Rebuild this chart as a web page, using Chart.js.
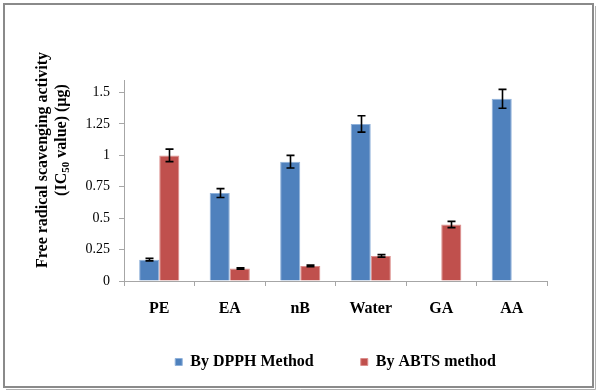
<!DOCTYPE html>
<html>
<head>
<meta charset="utf-8">
<script src="https://cdn.jsdelivr.net/npm/chart.js@4.4.0/dist/chart.umd.min.js"></script>
<style>
  html, body { margin: 0; padding: 0; background: #fff; }
  #wrap { width: 600px; height: 392px; position: relative; }
</style>
</head>
<body>
<div id="wrap"><canvas id="scavenging_plot" width="600" height="392"></canvas></div>
<script>
'use strict';

// data
const extracts = ['PE', 'EA', 'nB', 'Water', 'GA', 'AA'];
const dpphValues = [0.17, 0.70, 0.95, 1.25, null, 1.45];
const dpphErrors = [0.01, 0.035, 0.05, 0.065, null, 0.075];
const abtsValues = [1.00, 0.10, 0.12, 0.20, 0.45, null];
const abtsErrors = [0.05, 0.006, 0.006, 0.01, 0.025, null];
const yTickLabels = ['0', '0.25', '0.5', '0.75', '1', '1.25', '1.5'];

const serif = '"Liberation Serif", "Times New Roman", serif';

/**
 * Gray frame round the whole picture
 */
const framePlugin = {
    id: 'frame',
    beforeDraw(chart) {
        const ctx = chart.ctx;
        ctx.save();
        ctx.fillStyle = '#fff';
        ctx.fillRect(0, 0, chart.width, chart.height);
        ctx.strokeStyle = '#8a8a8a';
        ctx.lineWidth = 2;
        ctx.strokeRect(4, 4, 589, 383);
        ctx.strokeStyle = '#b0b0b0';
        ctx.lineWidth = 1;
        ctx.beginPath();
        ctx.moveTo(595.5, 6); ctx.lineTo(595.5, 389.5); ctx.lineTo(6, 389.5);
        ctx.stroke();
        ctx.restore();
    }
};

/**
 * Error bars drawn from the error arrays
 */
const errorBarPlugin = {
    id: 'errorBars',
    afterDatasetsDraw(chart) {
        const ctx = chart.ctx;
        const yScale = chart.scales.y;
        ctx.save();
        ctx.strokeStyle = '#000';
        ctx.lineWidth = 1.6;
        chart.data.datasets.forEach((ds, di) => {
            const meta = chart.getDatasetMeta(di);
            meta.data.forEach((bar, i) => {
                const v = ds.data[i];
                const e = ds.errors[i];
                if (v == null || e == null) return;
                const x = Math.round(bar.x) + 0.5;
                const yHi = yScale.getPixelForValue(v + e);
                const yLo = yScale.getPixelForValue(v - e);
                const cap = 4;
                ctx.beginPath();
                ctx.moveTo(x, yHi); ctx.lineTo(x, yLo);
                ctx.moveTo(x - cap, yHi); ctx.lineTo(x + cap, yHi);
                ctx.moveTo(x - cap, yLo); ctx.lineTo(x + cap, yLo);
                ctx.stroke();
            });
        });
        ctx.restore();
    }
};

/**
 * Y axis title with a subscript in IC50
 */
const yTitlePlugin = {
    id: 'yTitle',
    afterDraw(chart) {
        const ctx = chart.ctx;
        ctx.save();
        ctx.fillStyle = '#000';
        ctx.textBaseline = 'middle';

        // first line
        ctx.save();
        ctx.translate(43, 160);
        ctx.rotate(-Math.PI / 2);
        ctx.font = 'bold 16px ' + serif;
        ctx.textAlign = 'center';
        ctx.fillText('Free radical scavenging activity', 0, 0);
        ctx.restore();

        // second line, pieces with subscript
        const parts = [
            {t: '(IC', size: 16, dy: 0},
            {t: '50', size: 11, dy: 4},
            {t: ' value) (µg)', size: 16, dy: 0}
        ];
        let total = 0;
        parts.forEach(p => {
            ctx.font = 'bold ' + p.size + 'px ' + serif;
            p.w = ctx.measureText(p.t).width;
            total += p.w;
        });
        ctx.save();
        ctx.translate(62, 140);
        ctx.rotate(-Math.PI / 2);
        ctx.textAlign = 'left';
        let cx = -total / 2;
        parts.forEach(p => {
            ctx.font = 'bold ' + p.size + 'px ' + serif;
            ctx.fillText(p.t, cx, p.dy);
            cx += p.w;
        });
        ctx.restore();
        ctx.restore();
    }
};

const scavenging_plot = new Chart('scavenging_plot', {
    type: 'bar',
    data: {
        labels: extracts,
        datasets: [{
            label: 'By DPPH Method',
            data: dpphValues,
            errors: dpphErrors,
            backgroundColor: '#4f81bd',
            borderColor: '#8fb1da',
            borderWidth: 1
        }, {
            label: 'By ABTS method',
            data: abtsValues,
            errors: abtsErrors,
            backgroundColor: '#c0504d',
            borderColor: '#dc8e8c',
            borderWidth: 1
        }]
    },
    plugins: [framePlugin, errorBarPlugin, yTitlePlugin],
    options: {
        responsive: false,
        animation: false,
        devicePixelRatio: 1,
        datasets: {
            bar: { categoryPercentage: 0.57, barPercentage: 1.0 }
        },
        layout: { padding: { left: 0, top: 80, right: 53, bottom: 12 } },
        plugins: {
            legend: {
                position: 'bottom',
                fullSize: false,
                labels: {
                    boxWidth: 7,
                    boxHeight: 7,
                    padding: 47,
                    color: '#000',
                    font: { family: serif, size: 16, weight: 'bold' }
                }
            },
            tooltip: { enabled: false }
        },
        scales: {
            x: {
                afterFit(scale) {
                    scale.height = 26;
                    // legend sits close below, so let the labels draw past the axis box
                    scale._computeLabelArea = () => undefined;
                },
                grid: {
                    drawOnChartArea: false,
                    drawTicks: true,
                    tickLength: 5,
                    color: '#a6a6a6'
                },
                border: { display: true, color: '#a6a6a6', width: 1 },
                ticks: {
                    padding: 13,
                    color: '#000',
                    font: { family: serif, size: 16, weight: 'bold' }
                }
            },
            y: {
                min: 0,
                max: 1.6,
                afterFit(scale) { scale.width = 124; },
                grid: {
                    drawOnChartArea: false,
                    drawTicks: true,
                    tickLength: 5,
                    color: '#a6a6a6'
                },
                border: { display: true, color: '#a6a6a6', width: 1 },
                ticks: {
                    stepSize: 0.25,
                    includeBounds: false,
                    padding: 9,
                    color: '#000',
                    font: { family: serif, size: 14 },
                    callback: (value, index) => yTickLabels[index]
                }
            }
        }
    }
});
</script>
</body>
</html>
